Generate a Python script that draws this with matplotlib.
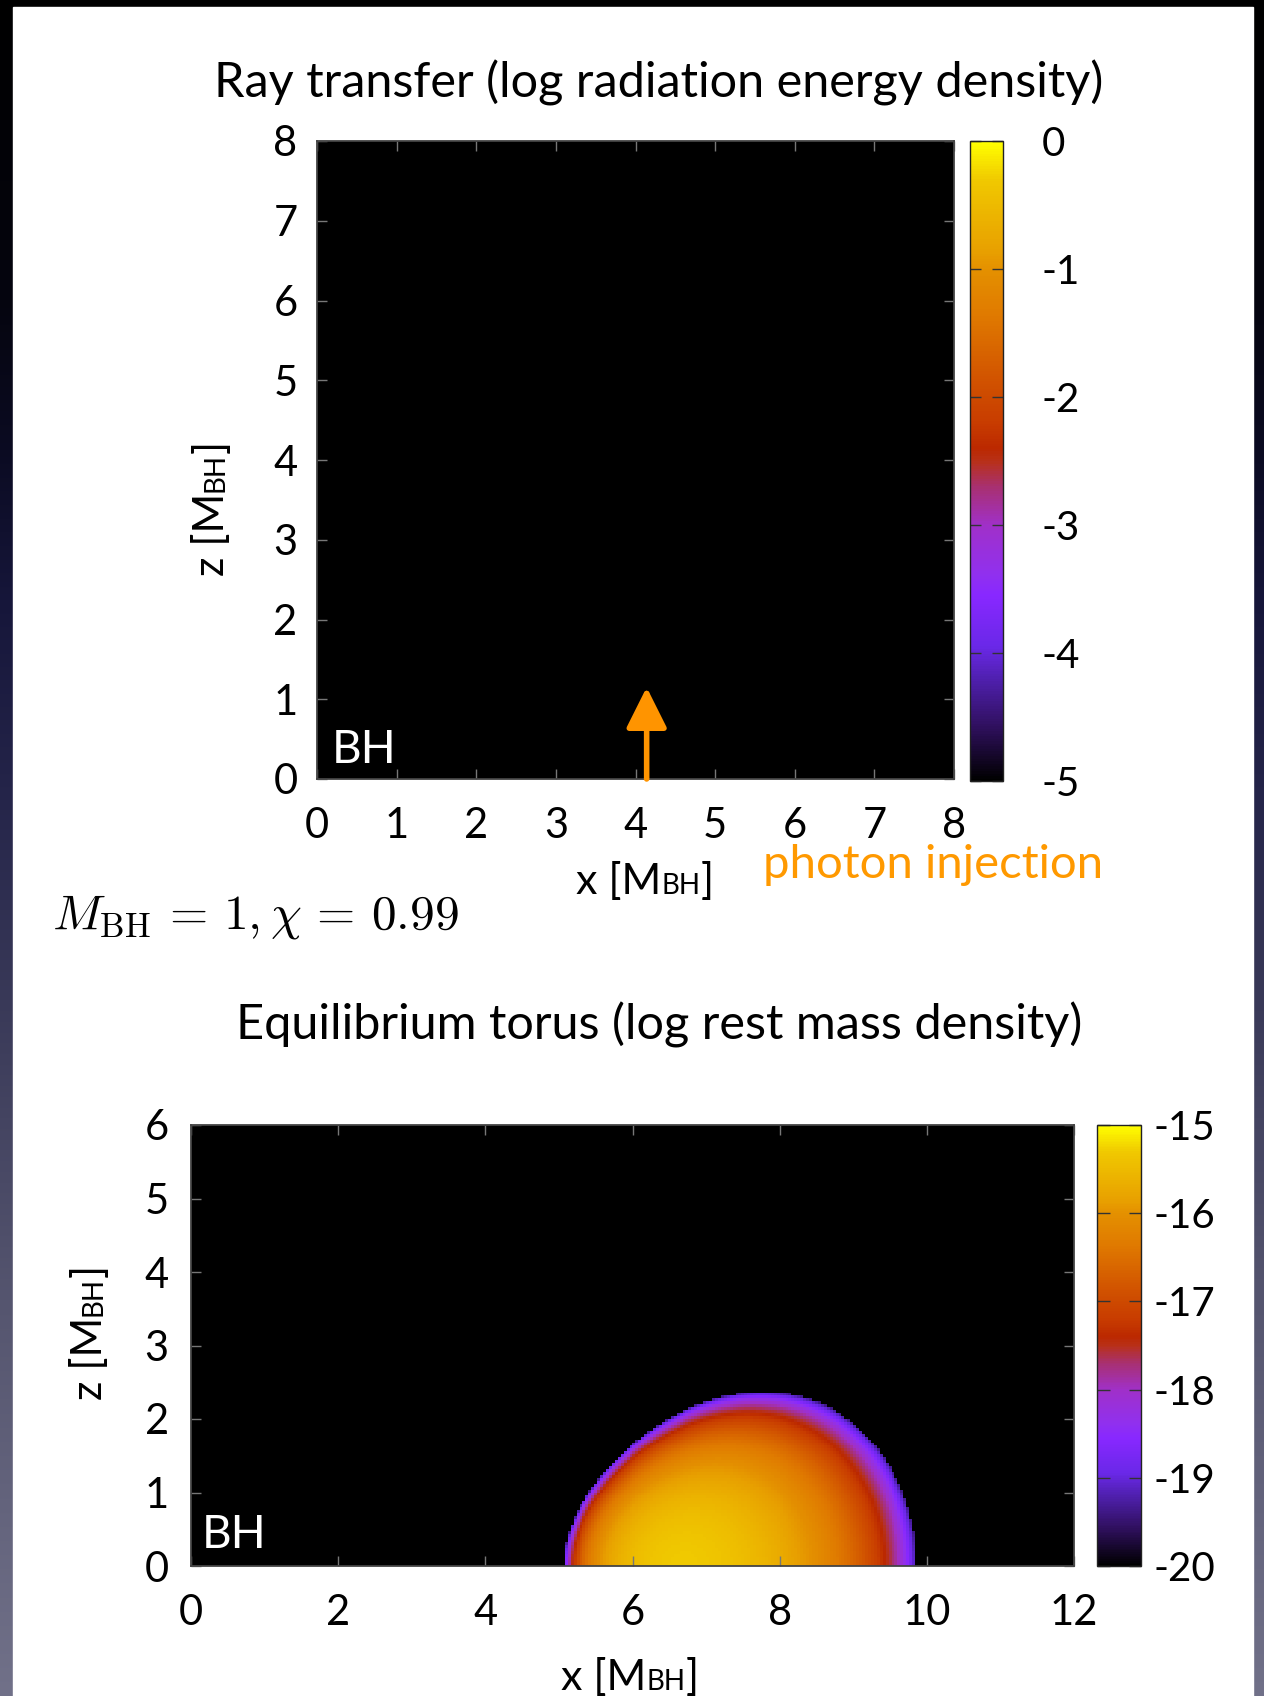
import numpy as np
import matplotlib
matplotlib.use("Agg")
import matplotlib.pyplot as plt
from matplotlib.colors import LinearSegmentedColormap
from matplotlib.transforms import IdentityTransform
from matplotlib.patches import Rectangle

W_PX, H_PX, DPI = 1264, 1696, 100
FONT = ["Lato", "DejaVu Sans"]
plt.rcParams["font.family"] = FONT
plt.rcParams["axes.unicode_minus"] = False
plt.rcParams["mathtext.fontset"] = "cm"

# colour palette: (position along the bar, colour)
palette_pos = [0.0, 0.086, 0.16, 0.21, 0.29, 0.32, 0.40, 0.46, 0.50, 0.52,
               0.56, 0.62, 0.73, 0.80, 0.83, 0.94, 1.0]
palette_col = ["#000000", "#301060", "#5020b0", "#6a28e8", "#8828ff", "#9030f0",
               "#a030c8", "#a83070", "#b83018", "#bb2800", "#c83c00", "#d05000",
               "#e07a00", "#e49000", "#e8a000", "#f0c800", "#ffff00"]

# slide background shading (y in px, colour)
bg_stop_y = [0, 300, 450, 600, 800, 1000, 1300, 1696]
bg_stop_col = ["#000000", "#05050f", "#0b0b22", "#16163a", "#25254a",
               "#393958", "#55556f", "#717189"]

# --- ray transfer panel ---
ray_title = "Ray transfer (log radiation energy density)"
ray_x_ticks = [0, 1, 2, 3, 4, 5, 6, 7, 8]
ray_z_ticks = [0, 1, 2, 3, 4, 5, 6, 7, 8]
ray_cbar_ticks = [0, -1, -2, -3, -4, -5]
ray_log_e_range = (-5.0, 0.0)
ray_log_e_level = -5.0          # no radiation in the domain yet
photon_x = 4.14                 # injection point on the equator
photon_z_tip = 1.15

# --- equilibrium torus panel ---
torus_title = "Equilibrium torus (log rest mass density)"
torus_x_ticks = [0, 2, 4, 6, 8, 10, 12]
torus_z_ticks = [0, 1, 2, 3, 4, 5, 6]
torus_cbar_ticks = [-15, -16, -17, -18, -19, -20]
torus_log_rho_range = (-20.0, -15.0)
torus_r_in = 5.03
torus_r_out = 10.0
torus_log_rho_max = -15.3
torus_log_rho_cut = -19.4
torus_log_rho_floor = -20.5
torus_poly_n = 3.3
torus_z_scale = 1.06
grid_step = 0.04

TITLE_FS = 35
TICK_FS = 30
CBAR_FS = 29
LABEL_FS, LABEL_SUB_FS = 31, 20

cmap = LinearSegmentedColormap.from_list("heat", list(zip(palette_pos, palette_col)))

fig = plt.figure(figsize=(W_PX / DPI, H_PX / DPI), dpi=DPI)
renderer = fig.canvas.get_renderer()


def frac(x0, y0, x1, y1):
    """Pixel box (top-left origin) -> figure fraction rect."""
    return [x0 / W_PX, 1 - y1 / H_PX, (x1 - x0) / W_PX, (y1 - y0) / H_PX]


# background
bg = fig.add_axes([0, 0, 1, 1], zorder=-10)
ys = np.arange(H_PX)
rgb = np.array([matplotlib.colors.to_rgb(c) for c in bg_stop_col])
grad = np.stack([np.interp(ys, bg_stop_y, rgb[:, k]) for k in range(3)], axis=-1)
bg.imshow(grad[:, None, :], extent=[0, W_PX, H_PX, 0], aspect="auto")
bg.add_patch(Rectangle((13, 7), 1240, H_PX - 7, color="white"))
bg.set_xlim(0, W_PX)
bg.set_ylim(H_PX, 0)
bg.axis("off")


def style_axes(ax, xticks, yticks, xpad, ypad):
    ax.set_xticks(xticks)
    ax.set_yticks(yticks)
    ax.tick_params(direction="in", top=True, right=True, length=7, width=1,
                   color="#777777", labelsize=TICK_FS)
    ax.tick_params(axis="x", pad=xpad)
    ax.tick_params(axis="y", pad=ypad)
    for s in ax.spines.values():
        s.set_color("#444444")
        s.set_linewidth(1.3)


def style_cbar(cb, pad, length):
    cb.outline.set_linewidth(1.0)
    cb.outline.set_edgecolor("#222222")
    cb.ax.tick_params(axis="y", direction="in", left=True, right=True,
                      length=length, width=1, color="#333333",
                      labelsize=CBAR_FS, pad=pad)


def pixel_text(x, y, s, **kw):
    return fig.text(x, H_PX - y, s, transform=IdentityTransform(), **kw)


def unit_label(cx, cy, head, sub, tail, size, sub_size, vertical=False):
    pieces = [(head, size), (sub, sub_size), (tail, size)]
    widths = []
    for s, fs in pieces:
        t = fig.text(0, 0, s, fontsize=fs)
        widths.append(t.get_window_extent(renderer).width)
        t.remove()
    total = sum(widths)
    cap = 0.72 * size * DPI / 72
    pos = 0.0
    for (s, fs), w in zip(pieces, widths):
        if vertical:
            fig.text(cx + cap / 2, H_PX - cy - total / 2 + pos, s, fontsize=fs,
                     rotation=90, rotation_mode="anchor", ha="left",
                     va="baseline", transform=IdentityTransform())
        else:
            fig.text(cx - total / 2 + pos, H_PX - cy - cap / 2, s, fontsize=fs,
                     ha="left", va="baseline", transform=IdentityTransform())
        pos += w


# ---------------- ray transfer panel ----------------
ax1 = fig.add_axes(frac(317, 141, 954, 779))
erad = np.full((80, 80), ray_log_e_level)
im1 = ax1.imshow(erad, origin="lower", extent=[0, 8, 0, 8], cmap=cmap,
                 vmin=ray_log_e_range[0], vmax=ray_log_e_range[1],
                 interpolation="nearest", aspect="auto")
ax1.set_xlim(0, 8)
ax1.set_ylim(0, 8)
style_axes(ax1, ray_x_ticks, ray_z_ticks, xpad=20, ypad=14)
ax1.text(0.19, 0.2, "BH", color="white", fontsize=33, ha="left", va="baseline")
ax1.annotate("", xy=(photon_x, photon_z_tip), xytext=(photon_x, 0.0),
             arrowprops=dict(arrowstyle="-|>,head_length=1.0,head_width=0.5",
                             color="#ff9400", lw=4, mutation_scale=25,
                             shrinkA=0, shrinkB=0))

cax1 = fig.add_axes(frac(970, 141, 1003, 781))
cb1 = fig.colorbar(im1, cax=cax1, ticks=ray_cbar_ticks)
style_cbar(cb1, pad=28, length=8)

pixel_text(659, 83, ray_title, fontsize=TITLE_FS, ha="center", va="center")
unit_label(645, 878, "x [M", "BH", "]", LABEL_FS, LABEL_SUB_FS)
unit_label(208, 508, "z [M", "BH", "]", LABEL_FS, LABEL_SUB_FS, vertical=True)
pixel_text(763, 865, "photon injection", fontsize=34, color="#ff9900",
           ha="left", va="center")
pixel_text(52, 917, r"$M_{\rm BH} \,=\, 1, \chi \,=\, 0.99$", fontsize=35.5,
           ha="left", va="center")

# ---------------- equilibrium torus panel ----------------
xc = np.arange(grid_step / 2, 12, grid_step)
zc = np.arange(grid_step / 2, 6, grid_step)
R, Z = np.meshgrid(xc, zc)
half_l2 = (1 / torus_r_in - 1 / torus_r_out) / (1 / torus_r_in**2 - 1 / torus_r_out**2)


def eff_potential(r_cyl, z):
    return -1.0 / np.sqrt(r_cyl**2 + z**2) + half_l2 / r_cyl**2


w_edge = eff_potential(torus_r_in, 0.0)
w_centre = eff_potential(2 * half_l2, 0.0)
enthalpy = (w_edge - eff_potential(R, Z * torus_z_scale)) / (w_edge - w_centre)
log_rho = np.full_like(R, torus_log_rho_floor)
inside = enthalpy > 0
log_rho[inside] = torus_log_rho_max + torus_poly_n * np.log10(enthalpy[inside])
log_rho[log_rho < torus_log_rho_cut] = torus_log_rho_floor

ax2 = fig.add_axes(frac(191, 1125, 1074, 1566))
im2 = ax2.imshow(log_rho, origin="lower", extent=[0, 12, 0, 6], cmap=cmap,
                 vmin=torus_log_rho_range[0], vmax=torus_log_rho_range[1],
                 interpolation="nearest", aspect="auto")
ax2.set_xlim(0, 12)
ax2.set_ylim(0, 6)
style_axes(ax2, torus_x_ticks, torus_z_ticks, xpad=20, ypad=16)
ax2.text(0.15, 0.25, "BH", color="white", fontsize=33, ha="left", va="baseline")

cax2 = fig.add_axes(frac(1097, 1125, 1141, 1566))
cb2 = fig.colorbar(im2, cax=cax2, ticks=torus_cbar_ticks)
style_cbar(cb2, pad=9, length=9)

pixel_text(659, 1025, torus_title, fontsize=TITLE_FS, ha="center", va="center")
unit_label(630, 1674, "x [M", "BH", "]", LABEL_FS, LABEL_SUB_FS)
unit_label(86, 1332, "z [M", "BH", "]", LABEL_FS, LABEL_SUB_FS, vertical=True)

fig.savefig("out.png", dpi=DPI)
